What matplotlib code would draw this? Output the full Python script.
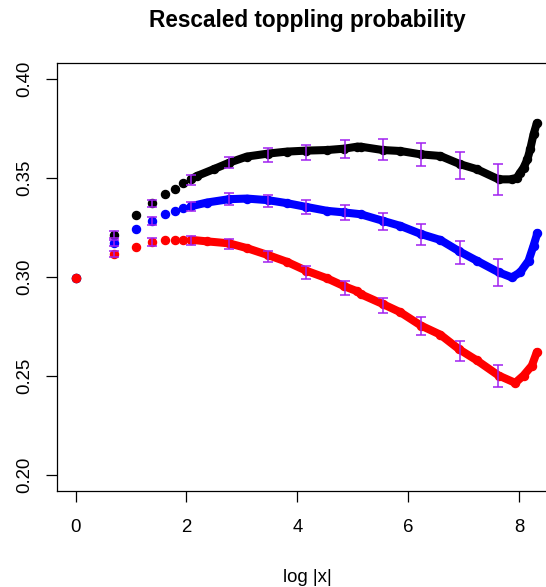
import numpy as np
import matplotlib
matplotlib.use("Agg")
from matplotlib import pyplot as plt

plt.rcParams['font.family'] = ['Liberation Sans', 'DejaVu Sans']

# first few sites, shown as separate dots (x = log n)
n_early = [1, 2, 3, 4, 5, 6, 7]
black_early = [0.2995, 0.3213, 0.3312, 0.3373, 0.3418, 0.3446, 0.3477]
blue_early = [0.2995, 0.3173, 0.3243, 0.3284, 0.3316, 0.3331, 0.3347]
red_early = [0.2995, 0.3117, 0.3154, 0.3178, 0.3185, 0.3186, 0.3189]

# dense part of the curves
black_x = [2.08, 2.19, 2.49, 2.77, 3.09, 3.47, 3.81, 4.16, 4.54, 4.85, 5.08, 5.14,
           5.54, 5.86, 6.23, 6.58, 6.94, 7.24, 7.63, 7.87, 7.96, 8.02, 8.08, 8.15,
           8.20, 8.26, 8.32]
black_y = [0.3493, 0.3510, 0.3544, 0.3577, 0.3608, 0.3623, 0.3633, 0.3638, 0.3641,
           0.3648, 0.3658, 0.3658, 0.3641, 0.3636, 0.3619, 0.3611, 0.3569, 0.3544,
           0.3493, 0.3493, 0.3502, 0.3527, 0.3552, 0.3594, 0.3645, 0.3720, 0.3777]

blue_x = [2.08, 2.37, 2.77, 3.09, 3.47, 3.81, 4.16, 4.54, 4.85, 5.14, 5.54, 5.86,
          6.23, 6.58, 6.92, 7.24, 7.63, 7.87, 8.02, 8.17, 8.26, 8.33]
blue_y = [0.3357, 0.3376, 0.3393, 0.3396, 0.3388, 0.3373, 0.3354, 0.3334, 0.3326,
          0.3317, 0.3284, 0.3258, 0.3217, 0.3187, 0.3130, 0.3082, 0.3024, 0.2998,
          0.3024, 0.3082, 0.3158, 0.3222]

red_x = [2.08, 2.37, 2.77, 3.09, 3.47, 3.81, 4.16, 4.54, 4.85, 5.08, 5.14, 5.54,
         5.86, 6.23, 6.58, 6.92, 7.24, 7.63, 7.93, 8.08, 8.23, 8.32]
red_y = [0.3188, 0.3180, 0.3170, 0.3146, 0.3111, 0.3077, 0.3032, 0.2993, 0.2953,
         0.2928, 0.2914, 0.2864, 0.2822, 0.2755, 0.2709, 0.2635, 0.2579, 0.2503,
         0.2466, 0.2503, 0.2553, 0.2621]

# error bars at n = 2^k
err_k = [1, 2, 3, 4, 5, 6, 7, 8, 9, 10, 11]
black_err_c = [0.3213, 0.3372, 0.3491, 0.3577, 0.3616, 0.3629, 0.3647, 0.3645, 0.3619, 0.3562, 0.3494]
black_err_h = [0.0017, 0.0018, 0.0024, 0.0029, 0.0034, 0.0039, 0.0044, 0.0052, 0.0059, 0.0069, 0.0078]
blue_err_c = [0.3173, 0.3285, 0.3356, 0.3393, 0.3385, 0.3354, 0.3326, 0.3280, 0.3215, 0.3123, 0.3022]
blue_err_h = [0.0015, 0.0020, 0.0024, 0.0029, 0.0031, 0.0035, 0.0040, 0.0045, 0.0054, 0.0059, 0.0067]
red_err_c = [0.3117, 0.3176, 0.3186, 0.3166, 0.3104, 0.3024, 0.2946, 0.2857, 0.2751, 0.2626, 0.2500]
red_err_h = [0.0015, 0.0019, 0.0022, 0.0025, 0.0027, 0.0034, 0.0035, 0.0039, 0.0046, 0.0050, 0.0055]

fig = plt.figure(figsize=(5.46, 5.87), dpi=100)
ax = fig.add_axes([0.1044, 0.1635, 0.9158, 0.7291])

x_early = np.log(n_early)
x_err = np.array(err_k) * np.log(2)
ms = 5.8
series = [(black_early, black_x, black_y, 'black'),
          (blue_early, blue_x, blue_y, 'blue'),
          (red_early, red_x, red_y, 'red')]
for early, dx, dy, col in series:
    ax.plot(x_early, early, 'o', color=col, ms=ms, mec=col, zorder=2)
    ax.plot(dx, dy, '-', color=col, lw=ms, solid_capstyle='round',
            solid_joinstyle='round', zorder=2)
    ax.plot(dx, dy, 'o', color=col, ms=ms, mec=col, zorder=2)

for c, h in [(black_err_c, black_err_h), (blue_err_c, blue_err_h), (red_err_c, red_err_h)]:
    ax.errorbar(x_err, c, yerr=h, fmt='none', ecolor='#A020F0', elinewidth=1.1,
                capsize=3.3, capthick=1.1, zorder=3)

ax.set_xlim(-0.334, 8.684)
ax.set_ylim(0.192, 0.408)
ax.set_xticks([0, 2, 4, 6, 8])
ax.set_yticks([0.20, 0.25, 0.30, 0.35, 0.40])
ax.set_yticklabels(['0.20', '0.25', '0.30', '0.35', '0.40'], rotation=90, va='center')
ax.tick_params(direction='out', length=8, width=0.9, labelsize=13.4)
ax.tick_params(axis='x', pad=12)
ax.tick_params(axis='y', pad=9)
for s in ax.spines.values():
    s.set_linewidth(0.9)

ax.set_xlabel('log |x|', fontsize=13.4, labelpad=24)
ax.set_title('Rescaled toppling probability', fontsize=16.3, fontweight='bold', pad=26)

fig.savefig('out.png', dpi=100)
